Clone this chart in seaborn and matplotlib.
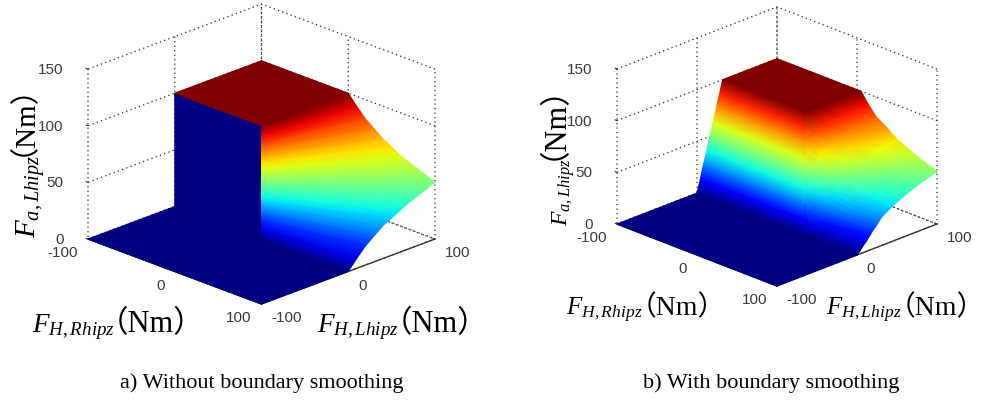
import numpy as np
import matplotlib
matplotlib.use("Agg")
import matplotlib.pyplot as plt
import seaborn as sns
from matplotlib.collections import TriMesh
from matplotlib.tri import Triangulation
from mpl_toolkits.mplot3d import proj3d

sns.set_style("white")
plt.rcParams["font.family"] = ["Liberation Sans"]
plt.rcParams["axes.unicode_minus"] = False
plt.rcParams["mathtext.fontset"] = "custom"
plt.rcParams["mathtext.it"] = "Liberation Serif:italic"
plt.rcParams["mathtext.rm"] = "Liberation Serif"
plt.rcParams["mathtext.bf"] = "Liberation Serif:bold"

W, H = 986, 406
TICK_XY = [-100, 0, 100]
TICK_Z = [0, 50, 100, 150]
LABEL_Z = "$F_{a,Lhipz}$"
LABEL_R = "$F_{H,Rhipz}$"
LABEL_L = "$F_{H,Lhipz}$"
UNIT = "（Nm）"
CAPTION_A = "a) Without boundary smoothing"
CAPTION_B = "b) With boundary smoothing"

# Panel a: outer edge of the fan quadrant (R>0, L>0), going from the plateau to the floor
A_EDGE_R = [0, 10, 20, 30, 40, 50, 60, 70, 80, 90, 100, 100, 100, 100, 100, 100, 100, 100, 100, 100, 100]
A_EDGE_L = [100, 100, 100, 100, 100, 100, 100, 100, 100, 100, 100, 90, 80, 70, 60, 50, 40, 30, 20, 10, 0]
A_EDGE_F = [100, 91, 83, 77, 71, 67, 62, 59, 56, 53, 50, 47, 44, 41, 37, 33, 29, 23, 17, 9, 0]
A_PLATEAU = 100

# Panel b: rows of constant L, columns of R positions and heights
B_L = [-100, 0, 4, 8, 12, 16, 20, 24, 28, 32, 44, 60, 80, 100]
B_R0 = [-100] * 14
B_R1 = [35, 35, 31, 27, 23, 19, 15, 11, 7, 5, 5, 5, 5, 5]
B_R2 = [36, 36, 32, 28, 25, 22, 19, 16, 14, 14, 14, 14, 14, 14]
B_R3 = [37, 37, 35, 33, 31, 29, 27, 25, 24, 24, 24, 24, 24, 24]
B_R4 = [38] * 14
B_R5 = [50] * 14
B_R6 = [75] * 14
B_R7 = [100] * 14
B_F0 = [0, 0, 12, 25, 37, 50, 62, 75, 87, 100, 100, 100, 100, 100]
B_F1 = [0, 0, 12, 25, 37, 50, 62, 75, 87, 100, 100, 100, 100, 100]
B_F2 = [0, 0, 12, 25, 36, 47, 58, 68, 75, 81, 87, 88, 89, 90]
B_F3 = [0, 0, 10, 20, 30, 40, 49, 58, 62, 66, 72, 77, 79, 81]
B_F4 = [0, 0, 9, 18, 26, 35, 42, 47, 52, 55, 62, 68, 72, 74]
B_F5 = [0, 0, 7, 14, 22, 28, 32, 35, 39, 43, 52, 59, 64, 67]
B_F6 = [0, 0, 5, 9, 14, 19, 24, 27, 30, 32, 38, 45, 52, 58]
B_F7 = [0, 0, 3, 7, 10, 14, 18, 21, 25, 28, 34, 40, 46, 51]

cmap = sns.mpl_palette("jet", 256, as_cmap=True)
fig = plt.figure(figsize=(W / 100, H / 100), dpi=100)
fig.patch.set_facecolor("white")


def make_axes(elev, aspect, left_px, right_px, base_px):
    ax = fig.add_axes([0.1, 0.1, 0.5, 0.5], projection="3d", proj_type="ortho")
    ax.view_init(elev=elev, azim=-45)
    ax.set_xlim(-100, 100, view_margin=0)
    ax.set_ylim(-100, 100, view_margin=0)
    ax.set_zlim(0, 150, view_margin=0)
    ax.set_box_aspect(aspect)
    ax.patch.set_alpha(0)
    ax.set_xticks(TICK_XY)
    ax.set_yticks(TICK_XY)
    ax.set_zticks(TICK_Z)
    for axis in (ax.xaxis, ax.yaxis, ax.zaxis):
        axis.set_pane_color((1, 1, 1, 0))
        axis.pane.set_edgecolor("none")
        axis.line.set_color("#333333")
        axis.line.set_linewidth(1.0)
        axis._axinfo["grid"].update(color="#222222", linewidth=0.9, linestyle=(0, (1, 2.6)))
        axis._axinfo["tick"].update(inward_factor=0.0, outward_factor=0.15)
    ax.zaxis._axinfo["juggled"] = (1, 0, 2)
    ax.tick_params(labelsize=11, labelcolor="#3a3a3a", color="#333333")
    ax.tick_params(axis="x", pad=0)
    ax.tick_params(axis="y", pad=0)
    ax.tick_params(axis="z", pad=2)
    fig.canvas.draw()
    for tick in ax.xaxis.get_major_ticks():
        tick.label1.set_ha("right")
        tick.label1.set_va("center")
    for tick in ax.yaxis.get_major_ticks():
        tick.label1.set_ha("left")
        tick.label1.set_va("center")
    for tick in ax.zaxis.get_major_ticks():
        tick.label1.set_ha("right")
        tick.label1.set_va("center")
    # Fit the box to the wanted pixel position
    M = ax.get_proj()
    def corners():
        ax.apply_aspect()
        a = proj3d.proj_transform(-100, -100, 0, M)[:2]
        b = proj3d.proj_transform(100, 100, 0, M)[:2]
        return ax.transData.transform([a, b])
    p = corners()
    side = 0.5 * H * (right_px - left_px) / (p[1, 0] - p[0, 0])
    ax.set_position([0.1, 0.1, side / W, side / H])
    p = corners()
    dx = left_px - p[0, 0]
    dy = (H - base_px) - p[0, 1]
    ax.set_position([0.1 + dx / W, 0.1 + dy / H, side / W, side / H])
    ax.apply_aspect()
    return ax, M


def add_mesh(ax, M, x, y, z, c, tris):
    px, py, _ = proj3d.proj_transform(np.asarray(x, float), np.asarray(y, float), np.asarray(z, float), M)
    mesh = TriMesh(Triangulation(px, py, np.asarray(tris)))
    mesh.set_array(np.asarray(c, float))
    mesh.set_cmap(cmap)
    mesh.set_clim(0, 100)
    mesh.do_3d_projection = lambda: 0.0
    ax.add_artist(mesh)


def label_pair(math, math_xy, math_size, unit_xy, unit_size, rotated=False):
    rot = 90 if rotated else 0
    fig.text(math_xy[0] / W, 1 - math_xy[1] / H, math, fontsize=math_size, rotation=rot,
             rotation_mode="anchor", ha="right", va="baseline", color="black")
    fig.text(unit_xy[0] / W, 1 - unit_xy[1] / H, UNIT, fontsize=unit_size, rotation=rot,
             rotation_mode="anchor", ha="left", va="baseline", color="black",
             family=["Liberation Serif", "Noto Sans CJK SC"])


def quad(tris, a, b, c, d, f=None):
    # Split along the diagonal whose ends have the closer heights, so colours follow the contours
    if f is not None and abs(f[b] - f[d]) < abs(f[a] - f[c]):
        tris.append((a, b, d))
        tris.append((b, c, d))
    else:
        tris.append((a, b, c))
        tris.append((a, c, d))


# ---------- Panel a ----------
axa, Ma = make_axes(22, (245, 245, 183), 88, 435, 240)
X, Y, Z, C, T = [], [], [], [], []


def patch(corner_x, corner_y, corner_z, corner_c):
    n = len(X)
    X.extend(corner_x); Y.extend(corner_y); Z.extend(corner_z); C.extend(corner_c)
    quad(T, n, n + 1, n + 2, n + 3)


patch([-100, 100, 100, -100], [-100, -100, 0, 0], [0, 0, 0, 0], [0, 0, 0, 0])
patch([-100, 0, 0, -100], [0, 0, 0, 0], [0, 0, A_PLATEAU, A_PLATEAU], [0, 0, 0, 0])
patch([-100, 0, 0, -100], [0, 0, 100, 100], [A_PLATEAU] * 4, [A_PLATEAU] * 4)
for i in range(len(A_EDGE_F) - 1):
    f0, f1 = A_EDGE_F[i], A_EDGE_F[i + 1]
    patch([0, A_EDGE_R[i], A_EDGE_R[i + 1], 0], [0, A_EDGE_L[i], A_EDGE_L[i + 1], 0],
          [f0, f0, f1, f1], [f0, f0, f1, f1])
add_mesh(axa, Ma, X, Y, Z, C, T)

# ---------- Panel b ----------
axb, Mb = make_axes(22.8, (226, 226, 168), 617, 937, 225)
R_cols = [B_R0, B_R1, B_R2, B_R3, B_R4, B_R5, B_R6, B_R7]
F_cols = [B_F0, B_F1, B_F2, B_F3, B_F4, B_F5, B_F6, B_F7]
nrow, ncol = len(B_L), len(R_cols)
bx = np.array(R_cols, float).T.ravel()
bz = np.array(F_cols, float).T.ravel()
by = np.repeat(np.array(B_L, float), ncol)
bt = []
for r in range(nrow - 1, 0, -1):
    for k in range(ncol - 1):
        a = r * ncol + k
        quad(bt, a, a + 1, a + 1 - ncol, a - ncol, bz)
add_mesh(axb, Mb, bx, by, bz, bz, bt)

# ---------- Text ----------
label_pair(LABEL_Z, (36, 155), 21, (16, 156), 21, rotated=True)
label_pair(LABEL_R, (115, 332), 19.5, (98, 332), 22)
label_pair(LABEL_L, (399, 332), 19.5, (382, 332), 22)
label_pair(LABEL_Z, (568, 158), 17, (546, 160), 22, rotated=True)
label_pair(LABEL_R, (643, 315), 18, (629, 315), 20)
label_pair(LABEL_L, (902, 315), 18, (888, 315), 20)
fig.text(262 / W, 1 - 383 / H, CAPTION_A, fontsize=16, family="Liberation Serif",
         ha="center", va="center", color="black")
fig.text(771 / W, 1 - 383 / H, CAPTION_B, fontsize=16, family="Liberation Serif",
         ha="center", va="center", color="black")

fig.savefig("out.png", dpi=100)
